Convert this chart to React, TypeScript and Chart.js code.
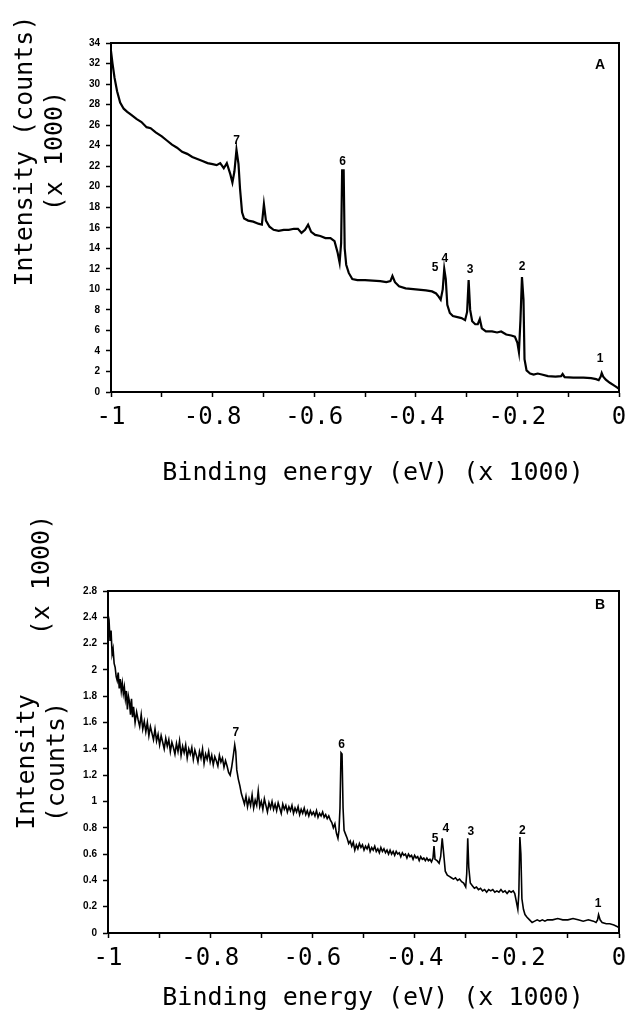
import React, { useEffect, useRef } from 'react';
import Chart from 'chart.js/auto';

// ---------- Panel A data (binding energy x1000 eV, intensity x1000 counts) ----------
const ENERGY_A = [
  -1.000, -0.997, -0.993, -0.988, -0.982, -0.975, -0.968, -0.960, -0.950, -0.940,
  -0.930, -0.922, -0.912, -0.900, -0.890, -0.880, -0.870, -0.860, -0.850, -0.840,
  -0.830, -0.820, -0.810, -0.800, -0.792, -0.785, -0.778, -0.772, -0.765, -0.761,
  -0.757, -0.753, -0.749, -0.746, -0.742, -0.738, -0.730, -0.720, -0.710, -0.703,
  -0.699, -0.695, -0.688, -0.680, -0.670, -0.660, -0.650, -0.640, -0.632, -0.625,
  -0.618, -0.612, -0.606, -0.598, -0.588, -0.578, -0.568, -0.560, -0.554, -0.550,
  -0.547, -0.545, -0.542, -0.540, -0.537, -0.532, -0.525, -0.515, -0.500, -0.485,
  -0.470, -0.458, -0.450, -0.446, -0.441, -0.433, -0.420, -0.400, -0.380, -0.368,
  -0.360, -0.355, -0.351, -0.347, -0.344, -0.341, -0.338, -0.333, -0.327, -0.318,
  -0.310, -0.303, -0.299, -0.296, -0.293, -0.289, -0.283, -0.278, -0.274, -0.270,
  -0.262, -0.250, -0.240, -0.232, -0.222, -0.212, -0.205, -0.200, -0.197, -0.194,
  -0.191, -0.188, -0.186, -0.182, -0.175, -0.168, -0.160, -0.152, -0.140, -0.125,
  -0.114, -0.111, -0.107, -0.090, -0.070, -0.055, -0.045, -0.040, -0.036, -0.034,
  -0.031, -0.026, -0.018, -0.010, -0.004, 0.000,
];
const INTENSITY_A = [
  33.2, 32.0, 30.6, 29.3, 28.2, 27.6, 27.3, 27.0, 26.6, 26.3,
  25.8, 25.7, 25.3, 24.9, 24.5, 24.1, 23.8, 23.4, 23.2, 22.9,
  22.7, 22.5, 22.3, 22.2, 22.1, 22.3, 21.8, 22.3, 21.2, 20.4,
  21.5, 23.6, 22.2, 19.8, 17.5, 16.9, 16.7, 16.6, 16.4, 16.3,
  18.3, 16.7, 16.1, 15.8, 15.7, 15.8, 15.8, 15.9, 15.9, 15.5,
  15.8, 16.3, 15.6, 15.3, 15.2, 15.0, 15.0, 14.7, 13.6, 12.6,
  14.5, 21.6, 21.6, 14.0, 12.4, 11.6, 11.0, 10.9, 10.9, 10.85,
  10.8, 10.7, 10.8, 11.3, 10.7, 10.3, 10.1, 10.0, 9.9, 9.8,
  9.6, 9.3, 9.0, 10.0, 12.0, 11.0, 8.5, 7.7, 7.4, 7.3,
  7.2, 7.0, 7.8, 10.9, 8.0, 6.9, 6.6, 6.6, 7.1, 6.2,
  5.9, 5.9, 5.8, 5.9, 5.6, 5.5, 5.4, 4.8, 3.9, 7.0,
  11.2, 9.0, 3.2, 2.1, 1.8, 1.7, 1.8, 1.7, 1.55, 1.5,
  1.55, 1.75, 1.45, 1.4, 1.4, 1.35, 1.25, 1.15, 1.5, 1.85,
  1.5, 1.2, 0.9, 0.65, 0.45, 0.3,
];

// ---------- Panel B data ----------
const ENERGY_B = [
  -1.000, -0.998, -0.996, -0.994, -0.992, -0.990, -0.988, -0.986, -0.984, -0.982,
  -0.980, -0.978, -0.976, -0.974, -0.972, -0.970, -0.968, -0.966, -0.964, -0.962,
  -0.960, -0.958, -0.956, -0.954, -0.952, -0.950, -0.947, -0.944, -0.941, -0.938,
  -0.935, -0.932, -0.929, -0.926, -0.923, -0.920, -0.917, -0.914, -0.911, -0.908,
  -0.905, -0.902, -0.899, -0.896, -0.893, -0.890, -0.887, -0.884, -0.881, -0.878,
  -0.875, -0.872, -0.869, -0.866, -0.863, -0.860, -0.857, -0.854, -0.851, -0.848,
  -0.845, -0.842, -0.839, -0.836, -0.833, -0.830, -0.827, -0.824, -0.821, -0.818,
  -0.815, -0.812, -0.809, -0.806, -0.803, -0.800, -0.797, -0.794, -0.791, -0.788,
  -0.785, -0.782, -0.779, -0.776, -0.773, -0.770, -0.767, -0.764, -0.761, -0.758,
  -0.755, -0.752, -0.750, -0.748, -0.745, -0.742, -0.739, -0.736, -0.733, -0.730,
  -0.727, -0.724, -0.721, -0.718, -0.715, -0.712, -0.709, -0.706, -0.703, -0.700,
  -0.697, -0.694, -0.691, -0.688, -0.685, -0.682, -0.679, -0.676, -0.673, -0.670,
  -0.667, -0.664, -0.661, -0.658, -0.655, -0.652, -0.649, -0.646, -0.643, -0.640,
  -0.637, -0.634, -0.631, -0.628, -0.625, -0.622, -0.619, -0.616, -0.613, -0.610,
  -0.607, -0.604, -0.601, -0.598, -0.595, -0.592, -0.589, -0.586, -0.583, -0.580,
  -0.577, -0.574, -0.571, -0.568, -0.565, -0.562, -0.559, -0.556, -0.553, -0.550,
  -0.548, -0.546, -0.544, -0.542, -0.540, -0.538, -0.535, -0.532, -0.529, -0.526,
  -0.523, -0.520, -0.517, -0.514, -0.511, -0.508, -0.505, -0.502, -0.499, -0.496,
  -0.493, -0.490, -0.487, -0.484, -0.481, -0.478, -0.475, -0.472, -0.469, -0.466,
  -0.463, -0.460, -0.457, -0.454, -0.451, -0.448, -0.445, -0.442, -0.439, -0.436,
  -0.433, -0.430, -0.427, -0.424, -0.421, -0.418, -0.415, -0.412, -0.409, -0.406,
  -0.403, -0.400, -0.397, -0.394, -0.391, -0.388, -0.385, -0.382, -0.379, -0.376,
  -0.373, -0.370, -0.367, -0.364, -0.362, -0.360, -0.356, -0.352, -0.349, -0.346,
  -0.343, -0.340, -0.336, -0.332, -0.328, -0.324, -0.320, -0.316, -0.312, -0.308,
  -0.304, -0.300, -0.298, -0.296, -0.294, -0.291, -0.287, -0.283, -0.279, -0.275,
  -0.271, -0.267, -0.263, -0.259, -0.255, -0.251, -0.247, -0.243, -0.239, -0.235,
  -0.231, -0.227, -0.223, -0.219, -0.215, -0.211, -0.207, -0.204, -0.201, -0.198,
  -0.196, -0.194, -0.192, -0.190, -0.187, -0.184, -0.180, -0.175, -0.170, -0.165,
  -0.160, -0.155, -0.150, -0.145, -0.140, -0.130, -0.120, -0.110, -0.100, -0.090,
  -0.080, -0.070, -0.060, -0.050, -0.045, -0.042, -0.040, -0.037, -0.033, -0.025,
  -0.018, -0.010, -0.004, 0.000,
];
const INTENSITY_B = [
  2.42, 2.38, 2.22, 2.30, 2.12, 2.16, 2.05, 2.02, 1.95, 1.92,
  1.98, 1.86, 1.93, 1.84, 1.90, 1.82, 1.87, 1.78, 1.84, 1.70,
  1.80, 1.76, 1.66, 1.78, 1.64, 1.72, 1.60, 1.68, 1.62, 1.57,
  1.66, 1.55, 1.61, 1.53, 1.60, 1.50, 1.57, 1.52, 1.47, 1.55,
  1.46, 1.51, 1.43, 1.50, 1.45, 1.40, 1.48, 1.42, 1.47, 1.38,
  1.45, 1.41, 1.36, 1.44, 1.38, 1.46, 1.35, 1.42, 1.37, 1.43,
  1.33, 1.40, 1.36, 1.41, 1.32, 1.39, 1.35, 1.30, 1.38, 1.33,
  1.40, 1.29, 1.36, 1.32, 1.38, 1.30, 1.35, 1.28, 1.34, 1.31,
  1.27, 1.35, 1.30, 1.33, 1.26, 1.31, 1.27, 1.22, 1.20, 1.26,
  1.34, 1.43, 1.38, 1.24, 1.17, 1.12, 1.06, 1.02, 0.98, 1.04,
  0.96, 1.02, 0.97, 1.05, 0.95, 1.01, 0.97, 1.08, 0.96, 1.00,
  0.94, 1.02, 0.97, 0.92, 0.99, 0.95, 1.00, 0.94, 0.98, 0.93,
  0.99, 0.95, 0.91, 0.98, 0.94, 0.97, 0.92, 0.96, 0.93, 0.97,
  0.91, 0.95, 0.92, 0.96, 0.90, 0.94, 0.91, 0.95, 0.90, 0.93,
  0.89, 0.93, 0.90, 0.92, 0.89, 0.93, 0.88, 0.91, 0.89, 0.92,
  0.88, 0.90, 0.87, 0.89, 0.86, 0.84, 0.80, 0.83, 0.76, 0.72,
  0.78, 0.95, 1.37, 1.36, 0.95, 0.78, 0.75, 0.72, 0.68, 0.70,
  0.66, 0.69, 0.63, 0.67, 0.64, 0.68, 0.65, 0.67, 0.63, 0.66,
  0.64, 0.67, 0.62, 0.65, 0.63, 0.66, 0.62, 0.64, 0.61, 0.65,
  0.62, 0.64, 0.61, 0.63, 0.60, 0.63, 0.60, 0.62, 0.59, 0.62,
  0.60, 0.61, 0.58, 0.61, 0.59, 0.60, 0.57, 0.60, 0.58, 0.59,
  0.56, 0.59, 0.57, 0.58, 0.55, 0.58, 0.56, 0.57, 0.55, 0.57,
  0.55, 0.56, 0.54, 0.57, 0.66, 0.56, 0.55, 0.53, 0.58, 0.72,
  0.60, 0.47, 0.44, 0.43, 0.42, 0.41, 0.42, 0.40, 0.41, 0.39,
  0.38, 0.35, 0.45, 0.72, 0.50, 0.38, 0.36, 0.34, 0.35, 0.33,
  0.34, 0.32, 0.33, 0.31, 0.33, 0.32, 0.33, 0.31, 0.32, 0.31,
  0.33, 0.31, 0.32, 0.30, 0.32, 0.31, 0.32, 0.30, 0.24, 0.18,
  0.30, 0.73, 0.60, 0.26, 0.18, 0.14, 0.12, 0.10, 0.08, 0.09,
  0.10, 0.09, 0.10, 0.09, 0.10, 0.10, 0.11, 0.10, 0.10, 0.11,
  0.10, 0.09, 0.10, 0.09, 0.08, 0.10, 0.14, 0.10, 0.08, 0.07,
  0.07, 0.06, 0.05, 0.04,
];

// ---------- Peak annotations ----------
const PEAK_NAMES = ['1', '2', '3', '4', '5', '6', '7'];
const PEAK_E_A = [-0.037, -0.191, -0.293, -0.343, -0.362, -0.544, -0.753];
const PEAK_I_A = [3.2, 12.2, 11.9, 13.0, 12.1, 22.4, 24.5];
const PEAK_E_B = [-0.041, -0.189, -0.290, -0.339, -0.360, -0.543, -0.750];
const PEAK_I_B = [0.22, 0.78, 0.77, 0.79, 0.72, 1.43, 1.52];

// ---------- Axes ----------
const X_TICK_MARKS = [-1, -0.9, -0.8, -0.7, -0.6, -0.5, -0.4, -0.3, -0.2, -0.1, 0];
const X_TICK_VALUES = [-1, -0.8, -0.6, -0.4, -0.2, 0];
const X_TICK_LABELS = ['-1', '-0.8', '-0.6', '-0.4', '-0.2', '0'];
const Y_TICK_VALUES_A = [0, 2, 4, 6, 8, 10, 12, 14, 16, 18, 20, 22, 24, 26, 28, 30, 32, 34];
const Y_TICK_LABELS_A = ['0', '2', '4', '6', '8', '10', '12', '14', '16', '18', '20', '22', '24', '26', '28', '30', '32', '34'];
const Y_TICK_VALUES_B = [0, 0.2, 0.4, 0.6, 0.8, 1, 1.2, 1.4, 1.6, 1.8, 2, 2.2, 2.4, 2.6];
const Y_TICK_LABELS_B = ['0', '0.2', '0.4', '0.6', '0.8', '1', '1.2', '1.4', '1.6', '1.8', '2', '2.2', '2.4', '2.8'];

const X_TITLE = 'Binding energy (eV) (x 1000)';
const MONO = '"DejaVu Sans Mono", "Liberation Mono", monospace';
const SANS = '"Liberation Sans", Arial, sans-serif';

type TextItem = { text: string; x: number; y: number; rotate?: boolean };

type PanelCfg = {
  energy: number[];
  intensity: number[];
  yMax: number;
  yTickValues: number[];
  yTickLabels: string[];
  peakE: number[];
  peakI: number[];
  letter: string;
  letterX: number;
  letterY: number;
  lineWidth: number;
  height: number;
  padTop: number;
  yWidth: number;
  xHeight: number;
  titles: TextItem[];
};

function findLabel(values: number[], labels: string[], v: number): string {
  for (let i = 0; i < values.length; i++) {
    if (Math.abs(values[i] - v) < 1e-6) return labels[i];
  }
  return '';
}

function Panel({ cfg }: { cfg: PanelCfg }) {
  const ref = useRef<HTMLCanvasElement | null>(null);
  useEffect(() => {
    if (!ref.current) return;
    const decor = {
      id: 'decor',
      afterDatasetsDraw(chart: any) {
        const { ctx, chartArea } = chart;
        const xs = chart.scales.x;
        const ys = chart.scales.y;
        ctx.save();
        ctx.strokeStyle = '#000';
        ctx.lineWidth = 2;
        ctx.strokeRect(chartArea.left, chartArea.top, chartArea.right - chartArea.left, chartArea.bottom - chartArea.top);
        ctx.fillStyle = '#000';
        ctx.font = `bold 12px ${SANS}`;
        ctx.textAlign = 'center';
        ctx.textBaseline = 'middle';
        for (let i = 0; i < PEAK_NAMES.length; i++) {
          ctx.fillText(PEAK_NAMES[i], xs.getPixelForValue(cfg.peakE[i]), ys.getPixelForValue(cfg.peakI[i]));
        }
        ctx.font = `bold 14px ${SANS}`;
        ctx.fillText(cfg.letter, cfg.letterX, cfg.letterY);
        ctx.font = `25px ${MONO}`;
        for (const t of cfg.titles) {
          ctx.save();
          ctx.translate(t.x, t.y);
          if (t.rotate) ctx.rotate(-Math.PI / 2);
          ctx.fillText(t.text, 0, 0);
          ctx.restore();
        }
        ctx.restore();
      },
    };
    const chart = new Chart(ref.current, {
      type: 'line',
      data: {
        datasets: [
          {
            data: cfg.energy.map((e, i) => ({ x: e, y: cfg.intensity[i] })),
            borderColor: '#000',
            borderWidth: cfg.lineWidth,
            pointRadius: 0,
            tension: 0,
            fill: false,
          },
        ],
      },
      options: {
        animation: false,
        responsive: false,
        events: [],
        layout: { padding: { left: 0, top: cfg.padTop, right: 15, bottom: 0 } },
        plugins: { legend: { display: false }, tooltip: { enabled: false }, title: { display: false } },
        scales: {
          x: {
            type: 'linear',
            min: -1,
            max: 0,
            afterBuildTicks: (s: any) => {
              s.ticks = X_TICK_MARKS.map((v) => ({ value: v }));
            },
            afterFit: (s: any) => {
              s.height = cfg.xHeight;
            },
            ticks: {
              autoSkip: false,
              maxRotation: 0,
              minRotation: 0,
              padding: 6,
              color: '#000',
              font: { family: MONO, size: 24 },
              callback: (v: any) => findLabel(X_TICK_VALUES, X_TICK_LABELS, Number(v)),
            },
            grid: { drawOnChartArea: false, drawTicks: true, tickLength: 5, tickColor: '#000', tickWidth: 1.5 },
            border: { display: true, color: '#000', width: 2 },
          },
          y: {
            type: 'linear',
            min: 0,
            max: cfg.yMax,
            afterBuildTicks: (s: any) => {
              s.ticks = cfg.yTickValues.map((v) => ({ value: v }));
            },
            afterFit: (s: any) => {
              s.width = cfg.yWidth;
            },
            ticks: {
              autoSkip: false,
              padding: 6,
              color: '#000',
              font: { family: SANS, size: 10, weight: 'bold' },
              callback: (v: any) => findLabel(cfg.yTickValues, cfg.yTickLabels, Number(v)),
            },
            grid: { drawOnChartArea: false, drawTicks: true, tickLength: 5, tickColor: '#000', tickWidth: 1.5 },
            border: { display: true, color: '#000', width: 2 },
          },
        },
      },
      plugins: [decor],
    } as any);
    return () => chart.destroy();
  }, [cfg]);
  return <canvas ref={ref} width={634} height={cfg.height} style={{ display: 'block', width: 634, height: cfg.height }} />;
}

const PANEL_A: PanelCfg = {
  energy: ENERGY_A,
  intensity: INTENSITY_A,
  yMax: 34,
  yTickValues: Y_TICK_VALUES_A,
  yTickLabels: Y_TICK_LABELS_A,
  peakE: PEAK_E_A,
  peakI: PEAK_I_A,
  letter: 'A',
  letterX: 600,
  letterY: 65,
  lineWidth: 2.2,
  height: 500,
  padTop: 43,
  yWidth: 111,
  xHeight: 108,
  titles: [
    { text: 'Intensity (counts)', x: 25, y: 151, rotate: true },
    { text: '(x 1000)', x: 55, y: 151, rotate: true },
    { text: X_TITLE, x: 373, y: 473 },
  ],
};

const PANEL_B: PanelCfg = {
  energy: ENERGY_B,
  intensity: INTENSITY_B,
  yMax: 2.6,
  yTickValues: Y_TICK_VALUES_B,
  yTickLabels: Y_TICK_LABELS_B,
  peakE: PEAK_E_B,
  peakI: PEAK_I_B,
  letter: 'B',
  letterX: 600,
  letterY: 105,
  lineWidth: 1.6,
  height: 519,
  padTop: 91,
  yWidth: 108,
  xHeight: 86,
  titles: [
    { text: '(x 1000)', x: 42, y: 75, rotate: true },
    { text: 'Intensity', x: 27, y: 262, rotate: true },
    { text: '(counts)', x: 57, y: 262, rotate: true },
    { text: X_TITLE, x: 373, y: 498 },
  ],
};

export default function App() {
  return (
    <div style={{ position: 'absolute', left: 0, top: 0, width: 634, height: 1019, background: '#fff' }}>
      <Panel cfg={PANEL_A} />
      <Panel cfg={PANEL_B} />
    </div>
  );
}
